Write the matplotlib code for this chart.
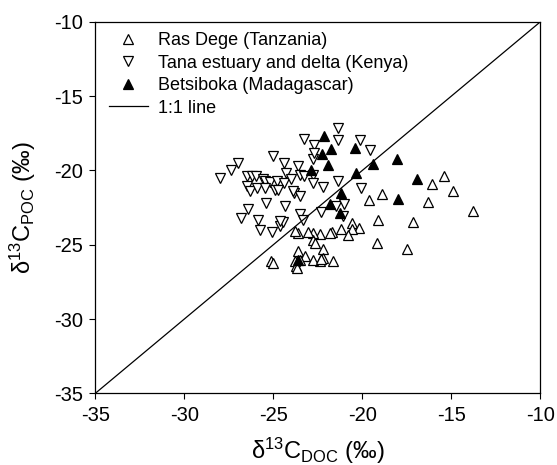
import matplotlib
matplotlib.use("Agg")
import matplotlib.pyplot as plt

plt.rcParams['font.family'] = ['Liberation Sans', 'DejaVu Sans']
plt.rcParams['mathtext.fontset'] = 'custom'
plt.rcParams['mathtext.rm'] = 'Liberation Sans'
plt.rcParams['mathtext.it'] = 'Liberation Sans:italic'
plt.rcParams['axes.unicode_minus'] = False

# Ras Dege (Tanzania)
ras_doc = [-15.4, -16.1, -14.9, -16.3, -13.8, -18.9, -19.6, -19.1, -17.13, -19.2,
           -17.5, -20.6, -20.2, -20.6, -20.8, -21.2, -21.7, -21.8, -22.4, -22.75,
           -22.75, -23.05, -23.6, -23.8, -22.65, -22.2, -23.6, -23.2, -22.2, -22.4,
           -22.75, -21.65, -23.8, -23.75, -23.65, -23.5, -25.1, -25.0, -22.3]
ras_poc = [-20.4, -20.9, -21.4, -22.1, -22.7, -21.6, -22.0, -23.35, -23.5, -24.9,
           -25.3, -23.55, -23.85, -23.95, -24.35, -23.95, -24.15, -24.2, -24.3, -24.2,
           -24.65, -24.15, -24.2, -24.05, -24.9, -25.3, -25.45, -25.75, -25.9, -26.1,
           -26.0, -26.1, -26.1, -26.45, -26.55, -26.0, -26.1, -26.25, -25.95]

# Tana estuary and delta (Kenya)
tana_doc = [-28.0, -27.4, -27.0, -25.0, -24.4, -24.3, -23.6, -23.5, -23.3, -22.75,
            -23.25, -22.7, -22.75, -22.7, -21.35, -21.35, -20.15, -19.55, -22.2, -22.75,
            -21.35, -20.05, -26.5, -26.2, -25.95, -25.6, -25.45, -25.2, -24.8, -24.4,
            -24.0, -26.5, -26.3, -25.9, -25.45, -24.9, -24.75, -23.85, -23.5, -25.4,
            -24.35, -26.4, -26.8, -25.85, -25.75, -25.05, -24.6, -24.45, -23.5, -23.35,
            -22.3, -21.45, -21.0, -21.1, -24.6, -23.9]
tana_poc = [-20.5, -20.0, -19.5, -19.0, -19.5, -20.2, -19.7, -20.3, -20.4, -20.3,
            -17.85, -18.3, -19.2, -18.8, -17.15, -17.95, -17.95, -18.6, -21.1, -20.85,
            -20.7, -21.2, -20.4, -20.4, -20.35, -20.6, -20.7, -20.75, -20.7, -20.85,
            -20.6, -21.05, -21.4, -21.15, -21.2, -21.3, -21.3, -21.5, -21.75, -22.2,
            -22.4, -22.6, -23.2, -23.35, -24.0, -24.15, -23.75, -23.5, -22.95, -23.3,
            -22.8, -22.4, -22.25, -23.05, -23.4, -21.4]

# Betsiboka (Madagascar)
bet_doc = [-22.15, -20.4, -21.75, -22.25, -21.95, -22.9, -18.05, -19.4, -20.35, -16.9,
           -21.22, -18.0, -21.8, -21.25, -23.6]
bet_poc = [-17.7, -18.5, -18.55, -18.9, -19.6, -19.95, -19.25, -19.55, -20.2, -20.6,
           -21.5, -21.95, -22.25, -22.85, -26.0]

one_to_one = [-35, -10]

fig = plt.figure(figsize=(5.57, 4.65), dpi=100)
ax = fig.add_axes([0.171, 0.154, 0.799, 0.799])

ms = 7.5
ax.plot(ras_doc, ras_poc, ls='none', marker='^', ms=ms, mfc='white', mec='black',
        mew=0.9, label='Ras Dege (Tanzania)')
ax.plot(tana_doc, tana_poc, ls='none', marker='v', ms=ms, mfc='white', mec='black',
        mew=0.9, label='Tana estuary and delta (Kenya)')
ax.plot(bet_doc, bet_poc, ls='none', marker='^', ms=ms, mfc='black', mec='black',
        mew=0.9, label='Betsiboka (Madagascar)')
ax.plot(one_to_one, one_to_one, color='black', lw=0.9, label='1:1 line')

ax.set_xlim(-35, -10)
ax.set_ylim(-35, -10)
ax.set_xticks(range(-35, -9, 5))
ax.set_yticks(range(-35, -9, 5))
ax.tick_params(direction='out', length=4, width=0.8, labelsize=14.5, pad=5,
               top=False, right=False)
for sp in ax.spines.values():
    sp.set_linewidth(0.9)

ax.set_xlabel(r'δ$^{13}$C$_{\mathrm{DOC}}$ (‰)', fontsize=17, labelpad=7.5)
ax.set_ylabel(r'δ$^{13}$C$_{\mathrm{POC}}$ (‰)', fontsize=17, labelpad=11)

ax.legend(loc='upper left', bbox_to_anchor=(0.03, 0.972), frameon=False,
          fontsize=13, handlelength=2.2, handletextpad=0.55, labelspacing=0.3,
          borderpad=0, borderaxespad=0)

fig.savefig('out.png', dpi=100)
